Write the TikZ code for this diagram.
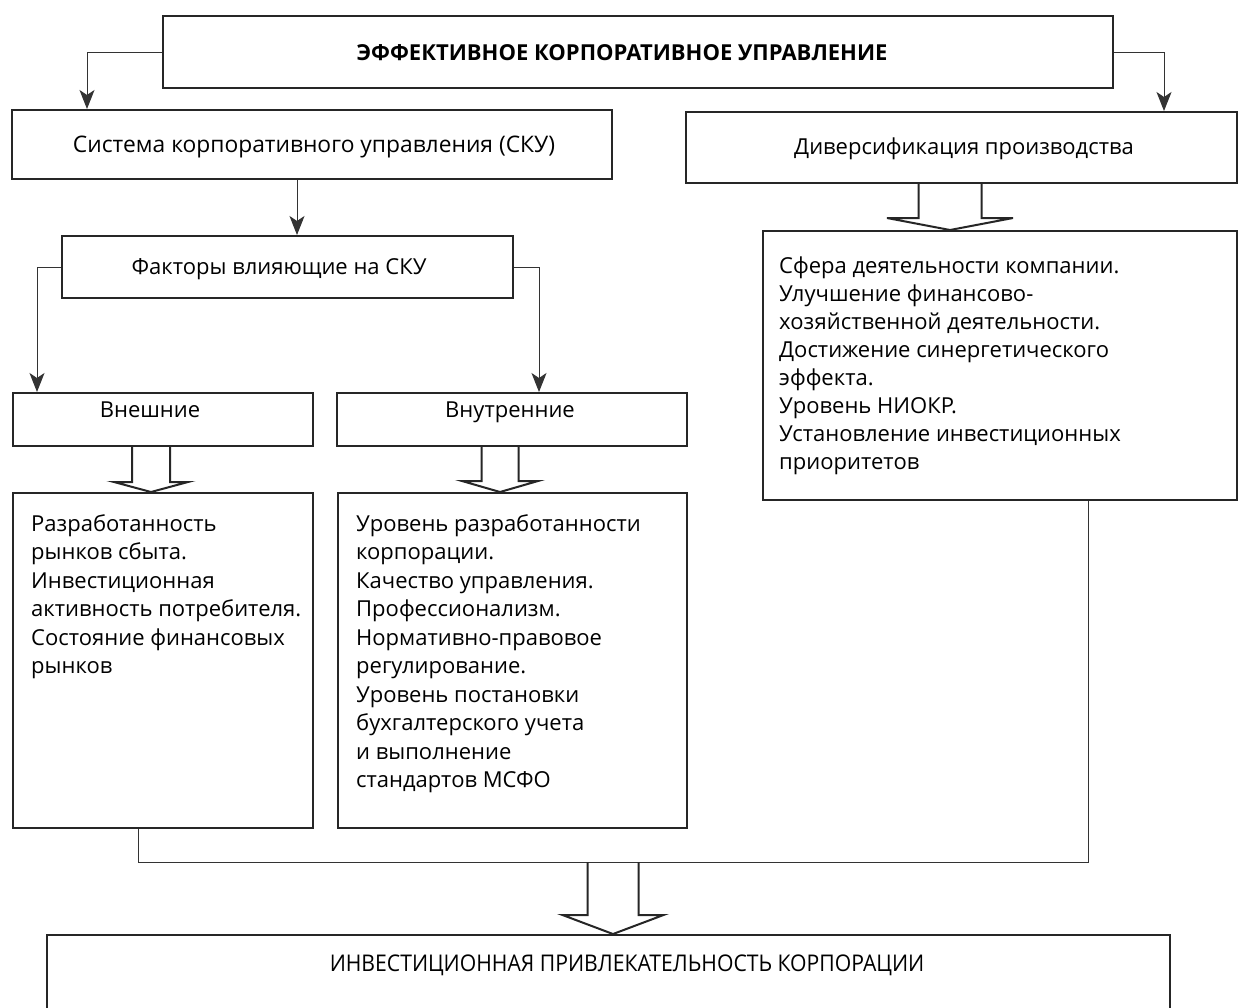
\documentclass[tikz,border=0pt]{standalone}
\usepackage{fontspec}
\setmainfont{Open Sans}
\usetikzlibrary{arrows.meta,calc,positioning}

\tikzset{
  box/.style={draw=black!85, line width=2pt, inner sep=0pt},
  link/.style={draw=black!80, line width=1pt},
  arr/.style={link, -{Stealth[length=19pt,width=15pt,inset=5pt]}},
  fat/.style={draw=black!85, line width=2pt, line join=miter},
  lbl/.style={inner sep=0pt, anchor=base, font=\fontsize{22}{28}\selectfont},
  txt/.style={inner sep=0pt, align=left, anchor=north west, font=\fontsize{22}{28.5}\selectfont},
}
% hollow block arrow: start, tip, shaft half width, head half width, head length
\newcommand{\fatarrow}[5]{%
  \draw[fat] let \p1=(#1), \p2=(#2) in
    (\x2-#3,\y1) -- (\x2-#3,\y2+#5) -- (\x2-#4,\y2+#5) -- (\p2)
    -- (\x2+#4,\y2+#5) -- (\x2+#3,\y2+#5) -- (\x2+#3,\y1);}

\begin{document}
\begin{tikzpicture}[x=1pt,y=-1pt]
  \useasboundingbox (0,0) rectangle (1241,1007);

  % boxes
  \node[box, minimum width=950pt, minimum height=72pt] (top) at (638,52) {};
  \node[lbl, font=\fontsize{22}{26}\selectfont\bfseries] (topt) at (622,60) {ЭФФЕКТИВНОЕ КОРПОРАТИВНОЕ УПРАВЛЕНИЕ};
  \node[box, minimum width=600pt, minimum height=69pt] (sku) at (312,144.5) {};
  \node[lbl, font=\fontsize{22.8}{28}\selectfont] (skut) at (314,152) {Система корпоративного управления (СКУ)};
  \node[box, minimum width=551pt, minimum height=71pt] (div) at (961.5,147.5) {};
  \node[lbl] (divt) at (964,154) {Диверсификация производства};
  \node[box, minimum width=451pt, minimum height=62pt] (fac) at (287.5,267) {};
  \node[lbl] (fact) at (279,274) {Факторы влияющие на СКУ};
  \node[box, minimum width=300pt, minimum height=53pt] (vn) at (163,419.5) {};
  \node[lbl] (vnt) at (150,417) {Внешние};
  \node[box, minimum width=350pt, minimum height=53pt] (vt) at (512,419.5) {};
  \node[lbl] (vtt) at (510,417) {Внутренние};

  \node[box, minimum width=300pt, minimum height=335pt] (vnd) at (163,660.5) {};
  \node[txt] (vndt) at ($(vnd.north west)+(19,22)$)
    {Разработанность\\рынков сбыта.\\Инвестиционная\\активность потребителя.\\Состояние финансовых\\рынков};
  \node[box, minimum width=349pt, minimum height=335pt] (vtd) at (512.5,660.5) {};
  \node[txt] (vtdt) at ($(vtd.north west)+(19,22)$)
    {Уровень разработанности\\корпорации.\\Качество управления.\\Профессионализм.\\Нормативно-правовое\\регулирование.\\Уровень постановки\\бухгалтерского учета\\и выполнение\\стандартов МСФО};
  \node[box, minimum width=474pt, minimum height=269pt] (divd) at (1000,365.5) {};
  \node[txt, font=\fontsize{22}{28}\selectfont] (divdt) at ($(divd.north west)+(17,27)$)
    {Сфера деятельности компании.\\Улучшение финансово-\\хозяйственной деятельности.\\Достижение синергетического\\эффекта.\\Уровень НИОКР.\\Установление инвестиционных\\приоритетов};

  \node[box, minimum width=1123pt, minimum height=90pt] (inv) at (608.5,980) {};
  \node[lbl, font=\fontsize{23}{28}\selectfont] (invt) at (627,971) {\scalebox{0.92}[1]{ИНВЕСТИЦИОННАЯ ПРИВЛЕКАТЕЛЬНОСТЬ КОРПОРАЦИИ}};

  % thin arrows
  \coordinate (s1) at ($(sku.south)+(-15,0)$);
  \draw[arr] (top.west) -| ($(sku.north west)+(76,0)$);
  \draw[arr] (top.east) -| ($(div.north east)+(-74,0)$);
  \draw[arr] (s1) -- (s1 |- fac.north);
  \draw[arr] (fac.west) -| ($(vn.north west)+(25,0)$);
  \draw[arr] (fac.east) -| ($(vt.north west)+(203,0)$);

  % joining line
  \coordinate (jl) at (138,862);
  \coordinate (jr) at (1088,862);
  \coordinate (jm) at (613,862);
  \draw[link] (jl |- vnd.south) -- (jl) -- (jr) -- (jr |- divd.south);

  % block arrows
  \fatarrow{vn.south -| 151,0}{vnd.north -| 151,0}{19pt}{37pt}{10pt}
  \fatarrow{vt.south -| 500,0}{vtd.north -| 500,0}{18.5pt}{38pt}{11pt}
  \fatarrow{div.south -| 950,0}{divd.north -| 950,0}{31.5pt}{63pt}{12pt}
  \fatarrow{jm}{jm |- inv.north}{25.5pt}{50.5pt}{19pt}
\end{tikzpicture}
\end{document}
